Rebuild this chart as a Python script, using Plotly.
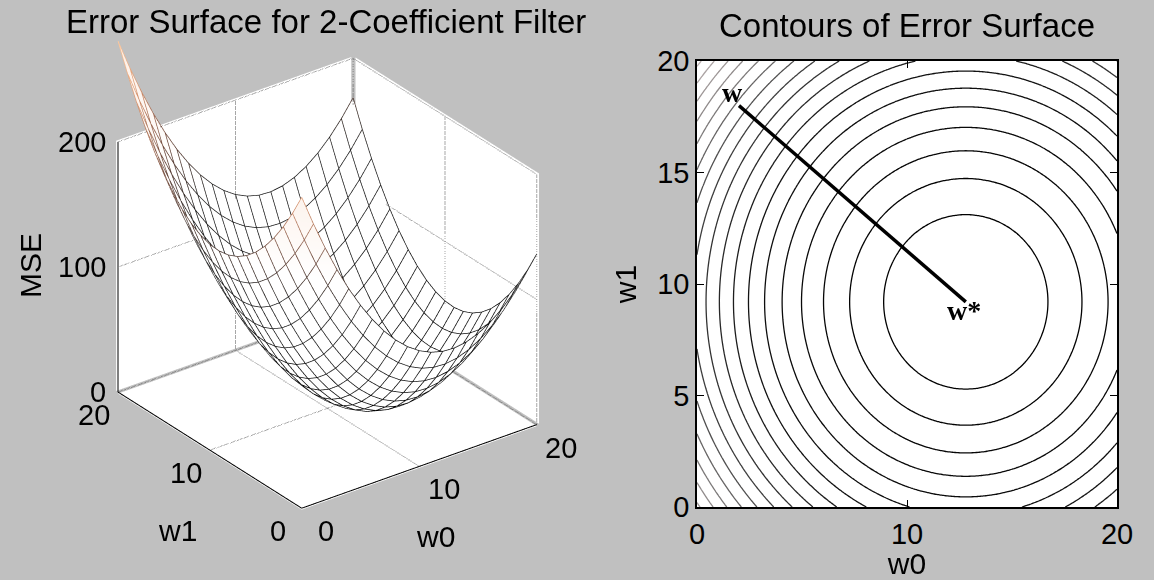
import numpy as np
import plotly.graph_objects as go

# ---- data -------------------------------------------------------------
w0_mesh = list(range(0, 21))            # w0 sample points of the mesh
w1_mesh = list(range(0, 21))            # w1 sample points of the mesh
w_opt = [12.8, 9.2]                     # optimum weight vector w*
w_start = [2.0, 18.0]                   # starting weight vector w
mse_min = 0.0                           # minimum mean-square error
contour_step = 15.3                     # spacing of the contour levels
z_ticks = [0, 100, 200]
w_ticks_3d = [0, 10, 20]
w0_ticks_2d = [0, 10, 20]
w1_ticks_2d = [0, 5, 10, 15, 20]


def mse(a, b):
    """Quadratic error surface of the 2-tap filter."""
    return mse_min + (a - w_opt[0]) ** 2 + (b - w_opt[1]) ** 2


BG = "#c0c0c0"
FONT = "Liberation Sans, Arial, sans-serif"
tick_font = dict(family=FONT, size=29, color="black")
label_font = dict(family=FONT, size=30, color="black")
title_font = dict(family=FONT, size=33, color="black")

W0, W1 = np.meshgrid(np.array(w0_mesh, float), np.array(w1_mesh, float))
Z = mse(W0, W1)
zmax = float(Z.max())

# camera: MATLAB-like default 3-D view, orthographic
view_dir = np.array([-0.528, -0.704, 0.474])
view_dir = view_dir / np.linalg.norm(view_dir)
eye_dist = 1.45
x_rng = [-0.01, 20.3]
y_rng = [-0.01, 20.3]
z_rng = [-1.5, 285]
aspect = dict(x=1.029, y=1.072, z=1.404)
look_at = np.array([0.0227, -0.1405, -0.1836])
eye = look_at + view_dir * eye_dist

fig = go.Figure()

# ---- 3-D mesh ---------------------------------------------------------
# white faces hide the wire lines lying behind the bowl; the faces are
# pushed a hair away from the viewer so the wires on them stay visible
push = 0.012
data_per_unit = np.array([(x_rng[1] - x_rng[0]) / aspect["x"],
                          (y_rng[1] - y_rng[0]) / aspect["y"],
                          (z_rng[1] - z_rng[0]) / aspect["z"]])
shift = -view_dir * push * data_per_unit
fig.add_trace(go.Surface(
    x=W0 + shift[0], y=W1 + shift[1], z=Z + shift[2],
    surfacecolor=Z, cmin=0, cmax=zmax,
    colorscale=[[0, "#ffffff"], [0.6, "#ffffff"], [1, "#fcefe6"]],
    showscale=False, hoverinfo="skip",
    lighting=dict(ambient=1, diffuse=0, specular=0, roughness=1, fresnel=0),
    scene="scene"))

wire_scale = [[0, "#000000"], [0.5, "#202020"], [0.7, "#7a5040"],
              [0.85, "#d89470"], [1, "#ffc89c"]]
for j in range(len(w1_mesh)):        # lines of constant w1
    fig.add_trace(go.Scatter3d(
        x=W0[j], y=W1[j], z=Z[j], mode="lines",
        line=dict(color=Z[j], colorscale=wire_scale, cmin=0, cmax=zmax, width=1.5),
        showlegend=False, hoverinfo="skip", scene="scene"))
for i in range(len(w0_mesh)):        # lines of constant w0
    fig.add_trace(go.Scatter3d(
        x=W0[:, i], y=W1[:, i], z=Z[:, i], mode="lines",
        line=dict(color=Z[:, i], colorscale=wire_scale, cmin=0, cmax=zmax, width=1.5),
        showlegend=False, hoverinfo="skip", scene="scene"))

# axes box: floor and the two back walls
lo, hi = w_ticks_3d[0], w_ticks_3d[-1]
ztop = z_ticks[-1]
eps = 0.2
walls = [
    ([lo, hi, hi, lo], [lo, lo, hi, hi], [-1.2] * 4),
    ([lo, hi, hi, lo], [hi + eps] * 4, [0, 0, ztop, ztop]),
    ([hi + eps] * 4, [lo, hi, hi, lo], [0, 0, ztop, ztop]),
]
for xs, ys, zs in walls:
    fig.add_trace(go.Mesh3d(
        x=xs, y=ys, z=zs, i=[0, 0], j=[1, 2], k=[2, 3], color="white",
        flatshading=True, hoverinfo="skip",
        lighting=dict(ambient=1, diffuse=0, specular=0, roughness=1, fresnel=0),
        scene="scene"))

mid = w_ticks_3d[1]
zmid = z_ticks[1]
grid_segments = [
    ([mid, mid], [lo, hi], [0, 0]),
    ([lo, hi], [mid, mid], [0, 0]),
    ([hi, hi], [lo, hi], [0, 0]),
    ([lo, hi], [hi, hi], [0, 0]),
    ([mid, mid], [hi, hi], [0, ztop]),
    ([lo, hi], [hi, hi], [zmid, zmid]),
    ([lo, hi], [hi, hi], [ztop, ztop]),
    ([hi, hi], [mid, mid], [0, ztop]),
    ([hi, hi], [lo, hi], [zmid, zmid]),
    ([hi, hi], [lo, hi], [ztop, ztop]),
    ([hi, hi], [lo, lo], [0, ztop]),
    ([hi, hi], [hi, hi], [0, ztop]),
]
for xs, ys, zs in grid_segments:
    fig.add_trace(go.Scatter3d(
        x=xs, y=ys, z=zs, mode="lines",
        line=dict(color="#505050", width=2, dash="dot"),
        showlegend=False, hoverinfo="skip", scene="scene"))

axis_segments = [
    ([lo, hi], [lo, lo], [0, 0]),
    ([lo, lo], [lo, hi], [0, 0]),
    ([lo, lo], [hi, hi], [0, ztop]),
]
for xs, ys, zs in axis_segments:
    fig.add_trace(go.Scatter3d(
        x=xs, y=ys, z=zs, mode="lines",
        line=dict(color="black", width=2),
        showlegend=False, hoverinfo="skip", scene="scene"))

scene_ann = []
for v in z_ticks:
    scene_ann.append(dict(x=lo, y=hi, z=v, text=str(v), showarrow=False,
                          xanchor="right", yanchor="middle", xshift=-10,
                          font=tick_font))
for v in w_ticks_3d:
    scene_ann.append(dict(x=lo, y=v, z=0, text=str(v), showarrow=False,
                          xanchor="center", yanchor="middle",
                          xshift=-24, yshift=-23, font=tick_font))
    scene_ann.append(dict(x=v, y=lo, z=0, text=str(v), showarrow=False,
                          xanchor="center", yanchor="middle",
                          xshift=24, yshift=-23, font=tick_font))
scene_ann.append(dict(x=lo, y=mid, z=0, text="w1", showarrow=False,
                      xanchor="center", yanchor="middle",
                      xshift=-33, yshift=-80, font=label_font))
scene_ann.append(dict(x=mid, y=lo, z=0, text="w0", showarrow=False,
                      xanchor="center", yanchor="middle",
                      xshift=16, yshift=-70, font=label_font))

# ---- contour plot -----------------------------------------------------
fine = np.linspace(lo, hi, 201)
FW0, FW1 = np.meshgrid(fine, fine)
FZ = mse(FW0, FW1)
fig.add_trace(go.Contour(
    x=fine, y=fine, z=FZ, zmin=0, zmax=zmax,
    contours=dict(start=contour_step, end=zmax, size=contour_step, coloring="lines"),
    colorscale=[[0, "#000000"], [0.35, "#111111"], [0.6, "#404040"],
                [0.8, "#8a8686"], [1, "#bab0b0"]],
    line=dict(width=1.3, smoothing=1.3), showscale=False, hoverinfo="skip",
    xaxis="x", yaxis="y"))

fig.add_trace(go.Scatter(
    x=[w_start[0], w_opt[0]], y=[w_start[1], w_opt[1]], mode="lines",
    line=dict(color="black", width=3.5), showlegend=False, hoverinfo="skip",
    xaxis="x", yaxis="y"))

serif = dict(family="Liberation Serif, Times New Roman, serif", size=28, color="black")
annotations = [
    dict(x=w_start[0], y=w_start[1], xref="x", yref="y", text="<b>w</b>",
         showarrow=False, xanchor="center", yanchor="middle",
         xshift=-7, yshift=13, font=serif),
    dict(x=w_opt[0], y=w_opt[1], xref="x", yref="y", text="<b>w*</b>",
         showarrow=False, xanchor="center", yanchor="middle",
         xshift=-2, yshift=-9, font=serif),
    dict(x=326 / 1154, y=1 - 22 / 580, xref="paper", yref="paper",
         xanchor="center", yanchor="middle",
         text="Error Surface for 2-Coefficient Filter", showarrow=False,
         font=title_font),
    dict(x=907 / 1154, y=1 - 25 / 580, xref="paper", yref="paper",
         xanchor="center", yanchor="middle",
         text="Contours of Error Surface", showarrow=False, font=title_font),
    dict(x=31 / 1154, y=1 - 266 / 580, xref="paper", yref="paper",
         xanchor="center", yanchor="middle",
         text="MSE", textangle=-90, showarrow=False, font=label_font),
]

axis_common = dict(showline=True, linecolor="black", linewidth=1.5, mirror="ticks",
                   ticks="inside", ticklen=7, tickcolor="black", tickwidth=1,
                   showgrid=False, zeroline=False, tickfont=tick_font,
                   range=[lo, hi], automargin=False)

fig.update_layout(
    width=1154, height=580,
    margin=dict(l=0, r=0, t=0, b=0, autoexpand=False),
    paper_bgcolor=BG, plot_bgcolor="white",
    showlegend=False,
    font=dict(family=FONT, color="black"),
    xaxis=dict(domain=[697 / 1154, 1117 / 1154], tickvals=w0_ticks_2d,
               title=dict(text="w0", font=label_font, standoff=6), **axis_common),
    yaxis=dict(domain=[73 / 580, 519 / 580], tickvals=w1_ticks_2d,
               title=dict(text="w1", font=label_font, standoff=12), **axis_common),
    scene=dict(
        domain=dict(x=[0.0, 0.62], y=[0.0, 1.0]),
        xaxis=dict(visible=False, range=x_rng),
        yaxis=dict(visible=False, range=y_rng),
        zaxis=dict(visible=False, range=z_rng),
        aspectmode="manual",
        aspectratio=aspect,
        camera=dict(projection=dict(type="orthographic"),
                    eye=dict(x=eye[0], y=eye[1], z=eye[2]),
                    up=dict(x=0, y=0, z=1),
                    center=dict(x=look_at[0], y=look_at[1], z=look_at[2])),
        bgcolor="rgba(0,0,0,0)",
        annotations=scene_ann,
    ),
    annotations=annotations,
)

fig.write_html("out.html")
